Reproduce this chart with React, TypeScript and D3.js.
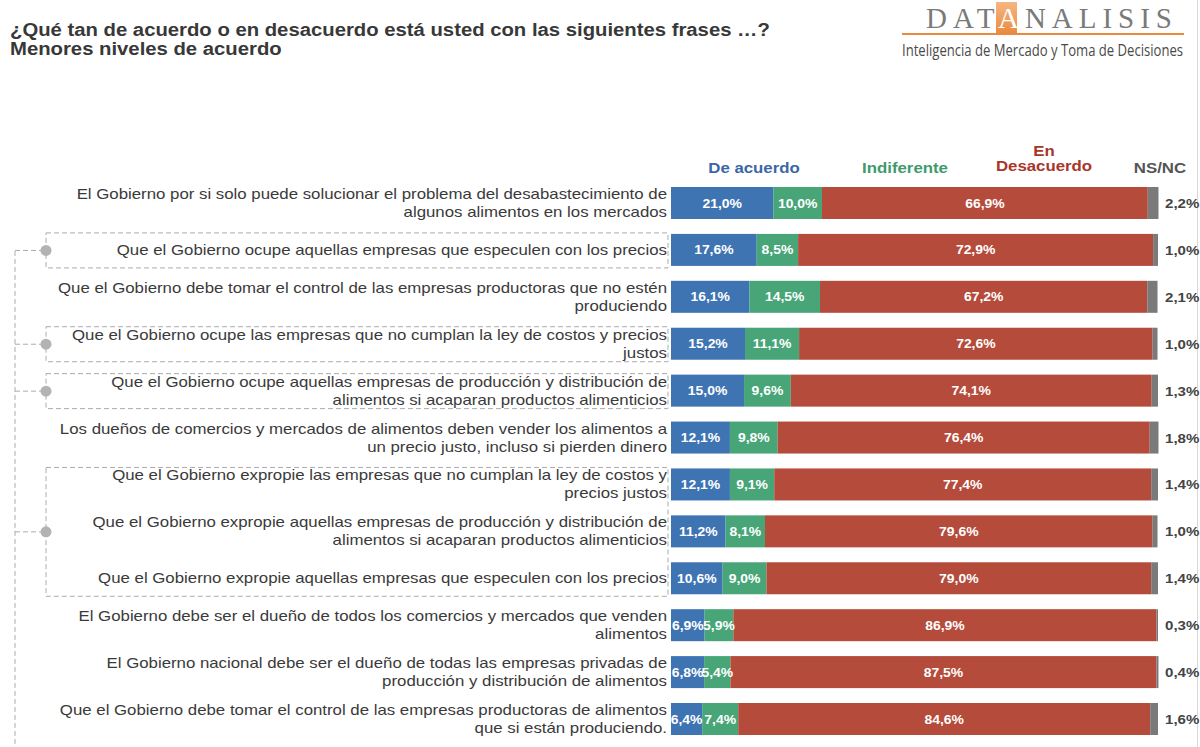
import React from "react";
import * as d3 from "d3";

const titleLines = [
  "¿Qué tan de acuerdo o en desacuerdo está usted con las siguientes frases …?",
  "Menores niveles de acuerdo",
];

const categories: string[][] = [
  ["El Gobierno por si solo puede solucionar el problema del desabastecimiento de", "algunos alimentos en los mercados"],
  ["Que el Gobierno ocupe aquellas empresas que especulen con los precios"],
  ["Que el Gobierno debe tomar el control de las empresas productoras que no estén", "produciendo"],
  ["Que el Gobierno ocupe las empresas que no cumplan la ley de costos y precios", "justos"],
  ["Que el Gobierno ocupe aquellas empresas de producción y distribución de", "alimentos si acaparan productos alimenticios"],
  ["Los dueños de comercios y mercados de alimentos deben vender los alimentos a", "un precio justo, incluso si pierden dinero"],
  ["Que el Gobierno expropie las empresas que no cumplan la ley de costos y", "precios justos"],
  ["Que el Gobierno expropie aquellas empresas de producción y distribución de", "alimentos si acaparan productos alimenticios"],
  ["Que el Gobierno expropie aquellas empresas que especulen con los precios"],
  ["El Gobierno debe ser el dueño de todos los comercios y mercados que venden", "alimentos"],
  ["El Gobierno nacional debe ser el dueño de todas las empresas privadas de", "producción y distribución de alimentos"],
  ["Que el Gobierno debe tomar el control de las empresas productoras de alimentos", "que si están produciendo."],
];

const deAcuerdo = [21.0, 17.6, 16.1, 15.2, 15.0, 12.1, 12.1, 11.2, 10.6, 6.9, 6.8, 6.4];
const indiferente = [10.0, 8.5, 14.5, 11.1, 9.6, 9.8, 9.1, 8.1, 9.0, 5.9, 5.4, 7.4];
const desacuerdo = [66.9, 72.9, 67.2, 72.6, 74.1, 76.4, 77.4, 79.6, 79.0, 86.9, 87.5, 84.6];
const nsnc = [2.2, 1.0, 2.1, 1.0, 1.3, 1.8, 1.4, 1.0, 1.4, 0.3, 0.4, 1.6];

const seriesKeys = ["deAcuerdo", "indiferente", "desacuerdo", "nsnc"];
const seriesNames = ["De acuerdo", "Indiferente", "En Desacuerdo", "NS/NC"];
const seriesColors = ["#3f74b3", "#47a578", "#b54b3b", "#7a7a7a"];
const headerColors = ["#3b67a6", "#3f9a6c", "#a8362a", "#555555"];

// groups of rows connected by the dashed bracket (row index ranges)
const groups: [number, number][] = [[1, 1], [3, 3], [4, 4], [6, 8]];

const fmt = (v: number) => v.toFixed(1).replace(".", ",") + "%";

const SX = 1.16;

export default function App() {
  const W = 1200, H = 747;
  const rows = categories.map((c, i) => ({
    i,
    deAcuerdo: deAcuerdo[i],
    indiferente: indiferente[i],
    desacuerdo: desacuerdo[i],
    nsnc: nsnc[i],
  }));
  const stack = d3.stack<any>().keys(seriesKeys)(rows);
  const x = d3.scaleLinear().domain([0, 100]).range([671, 1158]);
  const y = d3.scalePoint<number>().domain(d3.range(categories.length)).range([203, 719]);
  const barH = 32;
  const textColor = "#3a3a3a";
  const font = "Arial, 'Liberation Sans', sans-serif";

  const sText = (
    key: string,
    tx: number,
    ty: number,
    content: string,
    props: any
  ) => (
    <text key={key} transform={`translate(${tx},${ty}) scale(${SX},1)`} {...props}>
      {content}
    </text>
  );

  const headerX = [754, 905, 1044, 1160];

  return (
    <svg width={W} height={H} style={{ position: "absolute", left: 0, top: 0, background: "#fff" }} fontFamily={font}>
      <defs>
        <linearGradient id="og" x1="0" y1="0" x2="0" y2="1">
          <stop offset="0" stopColor="#f6b683" />
          <stop offset="1" stopColor="#e98a3f" />
        </linearGradient>
      </defs>
      <rect width={W} height={H} fill="#fff" />
      <line x1={1197.5} x2={1197.5} y1={0} y2={H} stroke="#d8d8d8" />

      {/* Title */}
      {titleLines.map((t, i) =>
        sText("t" + i, 10, 36 + i * 19, t, { fontSize: 17.5, fontWeight: "bold", fill: "#383838" })
      )}

      {/* Logo */}
      <rect x={996} y={2} width={21} height={32} fill="url(#og)" />
      <line x1={902} x2={1184} y1={34} y2={34} stroke="#e98a3f" strokeWidth={2} />
      <text x={926} y={28} fontFamily="'Liberation Serif', 'DejaVu Serif', serif" fontSize={29} fill="#7a7a7a" textLength={246} lengthAdjust="spacing">
        DAT<tspan fill="#ffffff">A</tspan>NALISIS
      </text>
      <text x={902} y={56} fontFamily="'Open Sans', 'Noto Sans', sans-serif" fontSize={16} fill="#4a4a4a" textLength={281} lengthAdjust="spacingAndGlyphs">
        Inteligencia de Mercado y Toma de Decisiones
      </text>

      {/* Header legend */}
      {sText("h0", headerX[0], 173, seriesNames[0], { fontSize: 14.5, fontWeight: "bold", fill: headerColors[0], textAnchor: "middle" })}
      {sText("h1", headerX[1], 173, seriesNames[1], { fontSize: 14.5, fontWeight: "bold", fill: headerColors[1], textAnchor: "middle" })}
      {sText("h2a", headerX[2], 156, "En", { fontSize: 14.5, fontWeight: "bold", fill: headerColors[2], textAnchor: "middle" })}
      {sText("h2b", headerX[2], 171, "Desacuerdo", { fontSize: 14.5, fontWeight: "bold", fill: headerColors[2], textAnchor: "middle" })}
      {sText("h3", headerX[3], 173, seriesNames[3], { fontSize: 14.5, fontWeight: "bold", fill: headerColors[3], textAnchor: "middle" })}

      {/* Brackets */}
      <g stroke="#ababab" strokeDasharray="5,3" fill="none" strokeWidth={1}>
        <line x1={15} x2={15} y1={(y(1) as number) + 1} y2={H} />
        {groups.map(([a, b], gi) => {
          const top = (y(a) as number) - 17;
          const bot = (y(b) as number) + 18;
          const mid = (top + bot) / 2;
          return (
            <g key={"g" + gi}>
              <rect x={46} y={top} width={622} height={bot - top} />
              <line x1={15} x2={46} y1={mid} y2={mid} />
            </g>
          );
        })}
      </g>
      {groups.map(([a, b], gi) => {
        const top = (y(a) as number) - 17;
        const bot = (y(b) as number) + 18;
        return <circle key={"c" + gi} cx={46} cy={(top + bot) / 2} r={5.5} fill="#b3b3b3" />;
      })}

      {/* Category labels */}
      {categories.map((lines, i) => {
        const cy = y(i) as number;
        const lh = 18;
        const start = cy - ((lines.length - 1) * lh) / 2 + 5;
        return lines.map((ln, j) =>
          sText(`l${i}-${j}`, 667, start + j * lh, ln, { fontSize: 14.5, fill: textColor, textAnchor: "end" })
        );
      })}

      {/* Bars */}
      {stack.map((s, si) => (
        <g key={"s" + si} fill={seriesColors[si]}>
          {s.map((d, i) => (
            <rect key={i} x={x(d[0])} y={(y(i) as number) - barH / 2} width={x(d[1]) - x(d[0])} height={barH} />
          ))}
        </g>
      ))}

      {/* Value labels */}
      {stack.slice(0, 3).map((s, si) =>
        s.map((d, i) =>
          sText(`v${si}-${i}`, (x(d[0]) + x(d[1])) / 2, (y(i) as number) + 4.5, fmt(d[1] - d[0]), {
            fontSize: 12,
            fontWeight: "bold",
            fill: "#ffffff",
            textAnchor: "middle",
          })
        )
      )}
      {nsnc.map((v, i) =>
        sText(`n${i}`, 1165, (y(i) as number) + 5, fmt(v), { fontSize: 13, fontWeight: "bold", fill: "#444444", textAnchor: "start" })
      )}
    </svg>
  );
}
